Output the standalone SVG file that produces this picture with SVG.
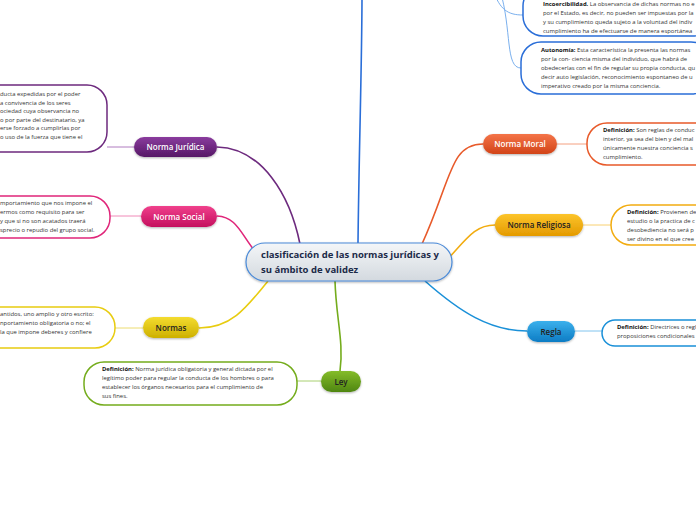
<svg xmlns="http://www.w3.org/2000/svg" width="696" height="520" viewBox="0 0 696 520">
<defs>
<linearGradient id="gCenter" x1="0" y1="0" x2="0" y2="1"><stop offset="0" stop-color="#f4f6f8"/><stop offset="1" stop-color="#d3d9df"/></linearGradient>
<linearGradient id="gPurple" x1="0" y1="0" x2="0" y2="1"><stop offset="0" stop-color="#8a3c9e"/><stop offset="1" stop-color="#561766"/></linearGradient>
<linearGradient id="gPink" x1="0" y1="0" x2="0" y2="1"><stop offset="0" stop-color="#f0408c"/><stop offset="1" stop-color="#c4105e"/></linearGradient>
<linearGradient id="gYellow" x1="0" y1="0" x2="0" y2="1"><stop offset="0" stop-color="#f4dc30"/><stop offset="1" stop-color="#cdb000"/></linearGradient>
<linearGradient id="gGreen" x1="0" y1="0" x2="0" y2="1"><stop offset="0" stop-color="#84bc2a"/><stop offset="1" stop-color="#4f8610"/></linearGradient>
<linearGradient id="gOrange" x1="0" y1="0" x2="0" y2="1"><stop offset="0" stop-color="#f47448"/><stop offset="1" stop-color="#d24418"/></linearGradient>
<linearGradient id="gGold" x1="0" y1="0" x2="0" y2="1"><stop offset="0" stop-color="#fcc42a"/><stop offset="1" stop-color="#e49a00"/></linearGradient>
<linearGradient id="gBlue" x1="0" y1="0" x2="0" y2="1"><stop offset="0" stop-color="#3cb0ec"/><stop offset="1" stop-color="#0c7cc4"/></linearGradient>
<filter id="sh" x="-20%" y="-30%" width="140%" height="170%"><feDropShadow dx="0" dy="1" stdDeviation="1" flood-color="#000" flood-opacity="0.3"/></filter>
</defs>
<style>
text{font-family:"Open Sans","Noto Sans","Liberation Sans",sans-serif;}
.pill{font-size:8px;font-weight:600;text-anchor:middle;}
.w{fill:#ffffff;}
.d{fill:#222222;}
.box{fill:#ffffff;stroke-width:1.5;}
.t{font-size:5.9px;fill:#333333;}
.b{font-weight:700;fill:#111;}
.c{fill:none;stroke-width:1.6;}
.s{fill:none;stroke-width:1;}
</style>
<rect width="696" height="520" fill="#ffffff"/>

<g id="connectors">
<path class="c" stroke="#6d2a7e" d="M300,244 C290,195 262,148 217,147"/>
<path class="c" stroke="#e0267a" d="M254,250 C240,232 236,217 217,216"/>
<path class="c" stroke="#e8cc10" d="M268,281 C245,310 230,328 199,328"/>
<path class="c" stroke="#74ac1c" d="M335,281 C336,318 344,342 340,371"/>
<path class="c" stroke="#1a90d8" d="M425,281 C460,312 490,331 527,331"/>
<path class="c" stroke="#f2ac10" d="M445,262 C466,240 474,225 495,225"/>
<path class="c" stroke="#e85a2a" d="M422,244 C452,178 450,144 483,144"/>
<path class="c" stroke="#2a6ed8" d="M358,243 C359,150 362,60 362,-5"/>
<path class="s" stroke="#7ab0ee" d="M493,-10 C500,10 508,15 523,15"/>
<path class="s" stroke="#7ab0ee" d="M500,-10 C512,30 505,68 521,68"/>
<path class="s" stroke="#b07cc0" d="M134,147 L107,147"/>
<path class="s" stroke="#f08ab8" d="M141,216 L110,216"/>
<path class="s" stroke="#ecdc70" d="M143,328 L115,328"/>
<path class="s" stroke="#a8d070" d="M321,381 L297,381"/>
<path class="s" stroke="#f4a080" d="M557,144 L587,144"/>
<path class="s" stroke="#f8d070" d="M583,225 L611,225"/>
<path class="s" stroke="#80c4ee" d="M575,331 L602,331"/>
</g>

<g id="center">
<rect x="246" y="243" width="206" height="38" rx="19" fill="url(#gCenter)" stroke="#4a8ad8" stroke-width="1.2" filter="url(#sh)"/>
<text x="261" y="258" font-size="9.5" font-weight="700" fill="#1c2a48">clasificación de las normas jurídicas y</text>
<text x="261" y="273" font-size="9.5" font-weight="700" fill="#1c2a48">su ámbito de validez</text>
</g>

<g id="norma-juridica">
<rect x="134" y="137" width="83" height="20" rx="10" fill="url(#gPurple)" filter="url(#sh)"/>
<text class="pill w" x="175.5" y="150">Norma Jurídica</text>
</g>
<g id="def-juridica">
<rect class="box" x="-30" y="85" width="137" height="67" rx="20" stroke="#6d2a7e"/>
<text class="t" x="0" y="96">ducta expedidas por el poder</text>
<text class="t" x="0" y="104.5">a convivencia de los seres</text>
<text class="t" x="0" y="113">ociedad cuya observancia no</text>
<text class="t" x="0" y="121.5">o por parte del destinatario, ya</text>
<text class="t" x="0" y="130">erse forzado a cumplirlas por</text>
<text class="t" x="0" y="138.5">o uso de la fuerza que tiene el</text>
</g>

<g id="norma-social">
<rect x="141" y="206" width="76" height="21" rx="10.5" fill="url(#gPink)" filter="url(#sh)"/>
<text class="pill w" x="179" y="219.5">Norma Social</text>
</g>
<g id="def-social">
<rect class="box" x="-30" y="196" width="140" height="42" rx="20" stroke="#e0267a"/>
<text class="t" x="0" y="205">mportamiento que nos impone el</text>
<text class="t" x="0" y="214">ermos como requisito para ser</text>
<text class="t" x="0" y="223">y que si no son acatados traerá</text>
<text class="t" x="0" y="232">sprecio o repudio del grupo social.</text>
</g>

<g id="normas">
<rect x="143" y="317" width="56" height="21" rx="10.5" fill="url(#gYellow)" filter="url(#sh)"/>
<text class="pill d" x="171" y="330.5">Normas</text>
</g>
<g id="def-normas">
<rect class="box" x="-30" y="307" width="145" height="41" rx="20" stroke="#e8cc10"/>
<text class="t" x="0" y="316">antidos, uno amplio y otro escrito:</text>
<text class="t" x="0" y="325">nportamiento obligatoria o no; el</text>
<text class="t" x="0" y="334">la que impone deberes y confiere</text>
</g>

<g id="ley">
<rect x="321" y="371" width="40" height="21" rx="10.5" fill="url(#gGreen)" filter="url(#sh)"/>
<text class="pill d" x="341" y="384.5">Ley</text>
</g>
<g id="def-ley">
<rect class="box" x="84" y="362" width="213" height="43" rx="20" stroke="#74ac1c"/>
<text class="t" x="102" y="371"><tspan class="b">Definición:</tspan>  Norma jurídica obligatoria y general dictada por el</text>
<text class="t" x="102" y="380">legítimo poder para regular la conducta de los hombres o para</text>
<text class="t" x="102" y="389">establecer los órganos necesarios para el cumplimiento de</text>
<text class="t" x="102" y="398">sus fines.</text>
</g>

<g id="norma-moral">
<rect x="483" y="134" width="74" height="20" rx="10" fill="url(#gOrange)" filter="url(#sh)"/>
<text class="pill w" x="520" y="147">Norma Moral</text>
</g>
<g id="def-moral">
<rect class="box" x="587" y="123" width="140" height="42" rx="20" stroke="#e85a2a"/>
<text class="t" x="603" y="132"><tspan class="b">Definición:</tspan>  Son reglas de conduc</text>
<text class="t" x="603" y="141">interior, ya sea del bien y del mal</text>
<text class="t" x="603" y="150">únicamente nuestra conciencia s</text>
<text class="t" x="603" y="159">cumplimiento.</text>
</g>

<g id="norma-religiosa">
<rect x="495" y="214" width="88" height="22" rx="11" fill="url(#gGold)" filter="url(#sh)"/>
<text class="pill d" x="539" y="228">Norma Religiosa</text>
</g>
<g id="def-religiosa">
<rect class="box" x="611" y="205" width="120" height="40" rx="20" stroke="#f2ac10"/>
<text class="t" x="627" y="214"><tspan class="b">Definición:</tspan>  Provienen de</text>
<text class="t" x="627" y="223">estudio o la practica de c</text>
<text class="t" x="627" y="232">desobediencia no será p</text>
<text class="t" x="627" y="241">ser divino en el que cree</text>
</g>

<g id="regla">
<rect x="527" y="321" width="48" height="21" rx="10.5" fill="url(#gBlue)" filter="url(#sh)"/>
<text class="pill d" x="551" y="334.5">Regla</text>
</g>
<g id="def-regla">
<rect class="box" x="602" y="320" width="130" height="26" rx="13" stroke="#1a90d8"/>
<text class="t" x="617" y="329"><tspan class="b">Definición:</tspan>  Directrices o regl</text>
<text class="t" x="617" y="338">proposiciones condicionales</text>
</g>

<g id="incoercibilidad">
<rect class="box" x="523" y="-14" width="190" height="50" rx="20" stroke="#2a6ed8"/>
<text class="t" x="543" y="6"><tspan class="b">Incoercibilidad.</tspan> La observancia de dichas normas no e</text>
<text class="t" x="543" y="15">por el Estado, es decir, no pueden ser impuestas por la</text>
<text class="t" x="543" y="24">y su cumplimiento queda sujeto a la voluntad del indiv</text>
<text class="t" x="543" y="33">cumplimiento ha de efectuarse de manera esportánea</text>
</g>

<g id="autonomia">
<rect class="box" x="521" y="42" width="190" height="52" rx="20" stroke="#2a6ed8"/>
<text class="t" x="541" y="52"><tspan class="b">Autonomía:</tspan> Esta característica la presenta las normas</text>
<text class="t" x="541" y="61">por la con- ciencia misma del individuo, que habrá de</text>
<text class="t" x="541" y="70">obedecerlas con el fin de regular su propia conducta, qu</text>
<text class="t" x="541" y="79">decir auto legislación, reconocimiento espontaneo de u</text>
<text class="t" x="541" y="88">imperativo creado por la misma conciencia.</text>
</g>
</svg>
